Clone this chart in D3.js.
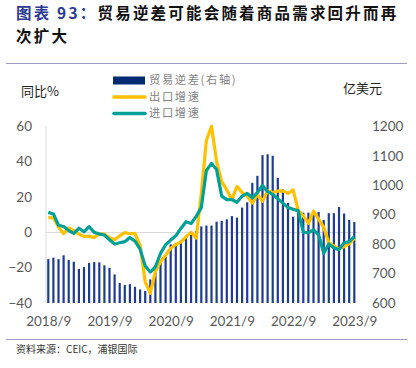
<!DOCTYPE html>
<html><head><meta charset="utf-8">
<script src="https://cdn.jsdelivr.net/npm/d3@7/dist/d3.min.js"></script>
<style>body{margin:0;background:#fff;} svg{display:block}</style>
</head><body>
<svg id="c" width="416" height="368"></svg>
<script>
const months = ["2018/9","2018/10","2018/11","2018/12","2019/1","2019/2","2019/3","2019/4","2019/5","2019/6","2019/7","2019/8",
"2019/9","2019/10","2019/11","2019/12","2020/1","2020/2","2020/3","2020/4","2020/5","2020/6","2020/7","2020/8",
"2020/9","2020/10","2020/11","2020/12","2021/1","2021/2","2021/3","2021/4","2021/5","2021/6","2021/7","2021/8",
"2021/9","2021/10","2021/11","2021/12","2022/1","2022/2","2022/3","2022/4","2022/5","2022/6","2022/7","2022/8",
"2022/9","2022/10","2022/11","2022/12","2023/1","2023/2","2023/3","2023/4","2023/5","2023/6","2023/7","2023/8","2023/9"];
const balance = [749,754,749,762,746,740,716,722,736,739,738,728,
719,697,668,661,664,655,646,641,680,718,738,757,
799,803,812,825,831,845,860,863,863,876,879,884,
895,890,924,942,1008,1032,1102,1105,1100,1025,986,940,
893,915,907,907,905,909,882,905,905,926,904,882,875];
const exportGrowth = [8.3,8.2,3,-0.8,2.5,1,-1,-2.3,-2.3,-2.9,-0.8,-1,
-3,-4.2,-2,-0.2,-0.8,-0.6,-7.5,-28,-34.5,-22,-16.6,-13,
-9,-7,-5.5,-2.6,0,-3.3,22,52,60,40,28.7,24,
18.5,26,22.5,20.5,16.5,21.5,17.5,23.5,22.5,23.3,23.5,22,
24,12.6,9.3,5.1,12,7.5,2.8,-5.8,-7.7,-9.4,-8,-6.5,-3.4];
const importGrowth = [11.3,10.4,4,3.3,1,-0.6,2.3,0.3,3.2,0,-1,-1.5,
-4.2,-6.6,-5.9,-5.3,-3,-5,-9.5,-19,-22.5,-19.5,-12,-7,
-4.4,-2,2.2,6,5,9,14,35,39,35.5,20.5,18.5,
18.5,17,20.5,22,19.5,22.5,26.5,23,21.5,19,16.5,14,
13,12.3,0,-0.2,1.3,-1.2,-11.9,-6.6,-8.8,-9.8,-5.9,-5.3,-2.5];
const xTickLabels = ["2018/9","2019/9","2020/9","2021/9","2022/9","2023/9"];
const leftTicks = [-40,-20,0,20,40,60];
const rightTicks = [600,700,800,900,1000,1100,1200];
const seriesNames = ["贸易逆差(右轴)","出口增速","进口增速"];
const titleLead = "图表 93：";
const titleRest1 = "贸易逆差可能会随着商品需求回升而再";
const titleRest2 = "次扩大";
const leftUnit = "同比%", rightUnit = "亿美元";
const sourceText = "资料来源：CEIC，浦银国际";

const svg = d3.select("#c");
const cjk = "'Noto Sans CJK SC','Noto Sans',sans-serif";
const num = "Lato,'Liberation Sans',sans-serif";
const cBar = "#1f3d8c", cExp = "#ffc000", cImp = "#00a096";

const x = d3.scalePoint().domain(months).range([48.3, 354.3]);
const yL = d3.scaleLinear().domain([-40, 60]).range([303, 126.3]);
const yR = d3.scaleLinear().domain([600, 1200]).range([303, 126.3]);

// title
const t1 = svg.append("text").attr("x", 16).attr("y", 19).attr("font-family", cjk)
  .attr("font-size", 15.5).attr("font-weight", "bold").attr("letter-spacing", 2.2);
t1.append("tspan").attr("fill", "#2e3a94").text(titleLead);
t1.append("tspan").attr("fill", "#111").text(titleRest1);
svg.append("text").attr("x", 16).attr("y", 42).attr("font-family", cjk)
  .attr("font-size", 15.5).attr("font-weight", "bold").attr("letter-spacing", 2.2)
  .attr("fill", "#111").text(titleRest2);

// separators
svg.append("line").attr("x1", 6).attr("x2", 407).attr("y1", 63.5).attr("y2", 63.5)
  .attr("stroke", "#9a9ac2").attr("stroke-width", 1);
svg.append("line").attr("x1", 6).attr("x2", 407).attr("y1", 339.5).attr("y2", 339.5)
  .attr("stroke", "#9a9ac2").attr("stroke-width", 1);

// legend
const legY = [80.5, 97, 113.5];
const lg = svg.append("g");
lg.append("rect").attr("x", 113).attr("y", legY[0] - 4).attr("width", 32).attr("height", 8).attr("fill", "#002b72");
lg.append("line").attr("x1", 114).attr("x2", 145).attr("y1", legY[1]).attr("y2", legY[1])
  .attr("stroke", cExp).attr("stroke-width", 3.5).attr("stroke-linecap", "round");
lg.append("line").attr("x1", 114).attr("x2", 145).attr("y1", legY[2]).attr("y2", legY[2])
  .attr("stroke", cImp).attr("stroke-width", 3.5).attr("stroke-linecap", "round");
seriesNames.forEach((n, k) => {
  lg.append("text").attr("x", 149).attr("y", legY[k]).attr("dy", "0.35em")
    .attr("font-family", cjk).attr("font-size", 11.3).attr("letter-spacing", 1.6)
    .attr("fill", "#7f7f7f").text(n);
});

svg.append("text").attr("x", 21).attr("y", 91).attr("dy", "0.35em").attr("font-family", cjk)
  .attr("font-size", 13).attr("fill", "#222").text(leftUnit);
svg.append("text").attr("x", 343).attr("y", 88).attr("dy", "0.35em").attr("font-family", cjk)
  .attr("font-size", 13).attr("fill", "#222").text(rightUnit);

// axis line & zero gridline
svg.append("line").attr("x1", 46).attr("x2", 46).attr("y1", yL(60)).attr("y2", yL(-40))
  .attr("stroke", "#d9d9d9").attr("stroke-width", 1);
svg.append("line").attr("x1", 46).attr("x2", 358).attr("y1", Math.round(yL(0)) + 0.5).attr("y2", Math.round(yL(0)) + 0.5)
  .attr("stroke", "#d9d9d9").attr("stroke-width", 1);

// axes
const axL = d3.axisLeft(yL).tickValues(leftTicks).tickSize(0).tickPadding(0).tickFormat(d3.format("d"));
const gL = svg.append("g").attr("transform", "translate(32,0)").call(axL);
const axR = d3.axisRight(yR).tickValues(rightTicks).tickSize(0).tickPadding(0).tickFormat(d3.format("d"));
const gR = svg.append("g").attr("transform", "translate(372,0)").call(axR);
const axB = d3.axisBottom(x).tickValues(xTickLabels).tickSize(0).tickPadding(0);
const gB = svg.append("g").attr("transform", "translate(0,316)").call(axB);
[gL, gR, gB].forEach(g => {
  g.select(".domain").remove();
  g.selectAll("text").attr("font-family", num).attr("font-size", 13.5).attr("fill", "#595959");
});
gB.selectAll("text").attr("dy", "0.71em");

// bars
svg.append("g").selectAll("rect").data(balance).join("rect")
  .attr("x", (d, i) => x(months[i]) - 1.1).attr("width", 2.2)
  .attr("y", d => yR(d)).attr("height", d => yR(600) - yR(d))
  .attr("fill", cBar);

// lines
const line = d3.line().x((d, i) => x(months[i])).y(d => yL(d));
svg.append("path").datum(exportGrowth).attr("d", line).attr("fill", "none")
  .attr("stroke", cExp).attr("stroke-width", 3.2).attr("stroke-linejoin", "round");
svg.append("path").datum(importGrowth).attr("d", line).attr("fill", "none")
  .attr("stroke", cImp).attr("stroke-width", 3.2).attr("stroke-linejoin", "round");

// source
svg.append("text").attr("x", 16).attr("y", 349).attr("dy", "0.35em").attr("font-family", cjk)
  .attr("font-size", 10).attr("fill", "#333").text(sourceText);
</script>
</body></html>
